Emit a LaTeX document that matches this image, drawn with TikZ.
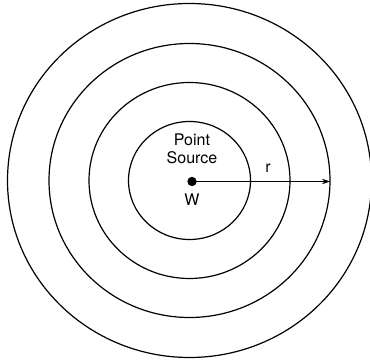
\documentclass[tikz,border=0pt]{standalone}
\usepackage{fontspec}
\setmainfont{TeX Gyre Heros}
\usetikzlibrary{arrows.meta}
\begin{document}
\begin{tikzpicture}[x=0.75pt, y=0.75pt, line width=0.9pt,
  every node/.style={font=\fontsize{12}{13}\selectfont, inner sep=0pt}]
\useasboundingbox (0,0) rectangle (370,360);

% wave fronts
\foreach \rx/\ry in {61/59, 100.5/98, 140.5/137, 182/177}
  \draw (189.5,179.5) ellipse ({\rx} and {\ry});

% source
\node[circle, fill=black, minimum size=7pt] (w) at (192,178.5) {};
\node (pt) at (192,220) {Point};
\node (src) at (192,202) {Source};
\node (wl) at (192,160) {W};

\coordinate (rim) at (330,178.5);
\draw[-{Stealth[length=6pt, width=4pt]}, line width=0.6pt] (w.center) -- (rim);
\node (r) at (268,192) {r};
\end{tikzpicture}
\end{document}
